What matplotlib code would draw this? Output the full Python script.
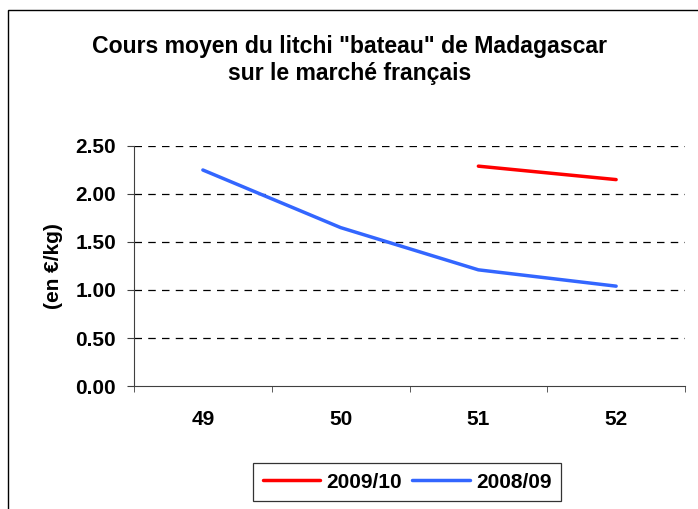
import numpy as np
import matplotlib
matplotlib.use("Agg")
matplotlib.rcParams.update({
    'font.family': 'sans-serif',
    'font.sans-serif': ['Liberation Sans', 'Arial', 'DejaVu Sans'],
    'font.weight': 'bold',
})
import matplotlib.pyplot as plt
from matplotlib.patches import Rectangle

# ── Data ──────────────────────────────────────────────────────────────────────
weeks = ['49', '50', '51', '52']
s0910 = [np.nan, np.nan, 2.29, 2.15]
s0809 = [2.25, 1.65, 1.21, 1.04]
yticks = [0.0, 0.5, 1.0, 1.5, 2.0, 2.5]

RED = '#FF0000'
BLUE = '#3366FF'
FS = 15

# ── Figure ────────────────────────────────────────────────────────────────────
fig = plt.figure(figsize=(6.98, 5.09), dpi=100)
fig.patch.set_facecolor('white')
ax = fig.add_axes([134 / 698, 1 - 386 / 509, (685 - 134) / 698, (386 - 146) / 509])

x = np.arange(len(weeks))
ax.plot(x, s0910, color=RED, lw=2.5, label='2009/10', solid_capstyle='round')
ax.plot(x, s0809, color=BLUE, lw=2.5, label='2008/09', solid_capstyle='round')

ax.set_xlim(-0.5, len(weeks) - 0.5)
ax.set_ylim(0, 2.5)
ax.set_yticks(yticks)
ax.set_yticklabels([f"{v:.2f}" for v in yticks], fontsize=FS, fontweight='bold')
ax.set_xticks(x)
ax.set_xticklabels(weeks, fontsize=FS, fontweight='bold')
ax.set_xticks(np.arange(len(weeks) + 1) - 0.5, minor=True)
ax.tick_params(axis='x', which='major', length=0, pad=17)
ax.tick_params(axis='x', which='minor', length=4, direction='out', color='#404040')
ax.tick_params(axis='y', length=5, direction='out', color='#404040', pad=8)

for v in yticks[1:]:
    ax.axhline(v, color='black', lw=0.9, ls=(0, (6, 5)), zorder=0)

ax.spines[['top', 'right']].set_visible(False)
ax.spines['left'].set_color('#404040')
ax.spines['bottom'].set_color('#404040')

ax.set_ylabel("(en €/kg)", fontsize=FS, fontweight='bold', labelpad=9)

fig.text(350 / 698, 1 - 60 / 509,
         'Cours moyen du litchi "bateau" de Madagascar\nsur le marché français',
         ha='center', va='center', fontsize=16.6, fontweight='bold', linespacing=1.22)

leg = fig.legend(loc='center', bbox_to_anchor=(407 / 698, 1 - 482 / 509), ncol=2,
                 frameon=True, fancybox=False, edgecolor='black', fontsize=FS,
                 handlelength=2.75, columnspacing=0.5, handletextpad=0.3,
                 borderpad=0.45)
leg.get_frame().set_linewidth(0.9)
for t in leg.get_texts():
    t.set_fontweight('bold')

# Outer chart frame (cropped on right/bottom)
fig.patches.append(Rectangle((8 / 698, -0.1), 1.2, 1.1 - 10 / 509,
                             transform=fig.transFigure, fill=False,
                             edgecolor='black', lw=1.0))

plt.savefig('out.png', dpi=100, facecolor='white')
